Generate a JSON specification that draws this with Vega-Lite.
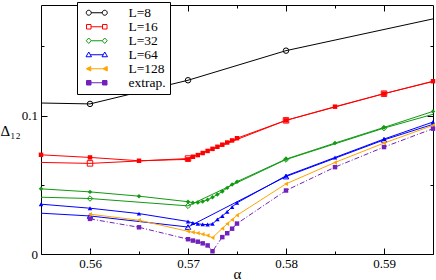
{
  "$schema": "https://vega.github.io/schema/vega-lite/v6.json",
  "width": 392,
  "height": 249,
  "autosize": {"type": "none"},
  "padding": {"left": 41, "top": 5, "right": 3, "bottom": 26},
  "background": "white",
  "config": {
    "view": {"stroke": "black", "strokeWidth": 1},
    "axis": {"domain": false, "grid": false, "labelFont": "Liberation Serif", "labelFontSize": 13, "labelColor": "black", "tickColor": "black", "tickWidth": 1, "titleFont": "Liberation Serif", "titleColor": "black", "titleFontWeight": "normal", "titleFontSize": 15, "labelFlush": false, "labelOverlap": false},
    "axisLeft": {"titleX": -41, "titleY": 125, "titleAngle": 0, "titleAlign": "left", "titleBaseline": "middle", "titlePadding": 2},
    "axisBottom": {"titleX": 196, "titleY": 24, "titleAlign": "center", "titleBaseline": "alphabetic"},
    "legend": {"orient": "none", "legendX": 36, "legendY": -3, "padding": 4, "rowPadding": -1, "strokeColor": "black", "fillColor": "white", "symbolSize": 100, "symbolStrokeWidth": 1, "symbolOffset": 9, "labelOffset": 25, "labelFont": "Liberation Serif", "labelFontSize": 13.5, "labelColor": "black", "symbolOpacity": 1, "symbolFillColor": "white", "symbolStrokeColor": "black"}
  },
  "data": {"values": [
    {"a": 0.55, "d": 0.1098, "L": "L=8", "s": "open"},
    {"a": 0.56, "d": 0.1085, "L": "L=8", "s": "open"},
    {"a": 0.57, "d": 0.1256, "L": "L=8", "s": "open"},
    {"a": 0.58, "d": 0.147, "L": "L=8", "s": "open"},
    {"a": 0.60, "d": 0.1776, "L": "L=8", "s": "open"},

    {"a": 0.55, "d": 0.0669, "L": "L=16", "s": "open"},
    {"a": 0.56, "d": 0.0655, "L": "L=16", "s": "open"},
    {"a": 0.57, "d": 0.0690, "L": "L=16", "s": "open"},
    {"a": 0.58, "d": 0.0966, "L": "L=16", "s": "open"},
    {"a": 0.59, "d": 0.1159, "L": "L=16", "s": "open"},
    {"a": 0.60, "d": 0.1335, "L": "L=16", "s": "open"},

    {"a": 0.555, "d": 0.0717, "L": "L=16", "s": "filled"},
    {"a": 0.56, "d": 0.0698, "L": "L=16", "s": "filled"},
    {"a": 0.565, "d": 0.0674, "L": "L=16", "s": "filled"},
    {"a": 0.57, "d": 0.0684, "L": "L=16", "s": "filled"},
    {"a": 0.5705, "d": 0.0703, "L": "L=16", "s": "filled"},
    {"a": 0.571, "d": 0.0715, "L": "L=16", "s": "filled"},
    {"a": 0.5715, "d": 0.0730, "L": "L=16", "s": "filled"},
    {"a": 0.572, "d": 0.0745, "L": "L=16", "s": "filled"},
    {"a": 0.5725, "d": 0.0760, "L": "L=16", "s": "filled"},
    {"a": 0.573, "d": 0.0775, "L": "L=16", "s": "filled"},
    {"a": 0.5735, "d": 0.0790, "L": "L=16", "s": "filled"},
    {"a": 0.574, "d": 0.0806, "L": "L=16", "s": "filled"},
    {"a": 0.5745, "d": 0.0821, "L": "L=16", "s": "filled"},
    {"a": 0.575, "d": 0.0837, "L": "L=16", "s": "filled"},
    {"a": 0.58, "d": 0.0966, "L": "L=16", "s": "filled"},
    {"a": 0.585, "d": 0.1065, "L": "L=16", "s": "filled"},
    {"a": 0.59, "d": 0.1159, "L": "L=16", "s": "filled"},
    {"a": 0.595, "d": 0.1249, "L": "L=16", "s": "filled"},

    {"a": 0.55, "d": 0.0420, "L": "L=32", "s": "open"},
    {"a": 0.56, "d": 0.0401, "L": "L=32", "s": "open"},
    {"a": 0.57, "d": 0.0348, "L": "L=32", "s": "open"},
    {"a": 0.58, "d": 0.0683, "L": "L=32", "s": "open"},
    {"a": 0.59, "d": 0.0910, "L": "L=32", "s": "open"},
    {"a": 0.60, "d": 0.1110, "L": "L=32", "s": "open"},

    {"a": 0.555, "d": 0.0471, "L": "L=32", "s": "filled"},
    {"a": 0.56, "d": 0.0449, "L": "L=32", "s": "filled"},
    {"a": 0.565, "d": 0.0418, "L": "L=32", "s": "filled"},
    {"a": 0.57, "d": 0.0378, "L": "L=32", "s": "filled"},
    {"a": 0.5705, "d": 0.0371, "L": "L=32", "s": "filled"},
    {"a": 0.571, "d": 0.0372, "L": "L=32", "s": "filled"},
    {"a": 0.5715, "d": 0.0380, "L": "L=32", "s": "filled"},
    {"a": 0.572, "d": 0.0392, "L": "L=32", "s": "filled"},
    {"a": 0.5725, "d": 0.0410, "L": "L=32", "s": "filled"},
    {"a": 0.573, "d": 0.0430, "L": "L=32", "s": "filled"},
    {"a": 0.5735, "d": 0.0452, "L": "L=32", "s": "filled"},
    {"a": 0.574, "d": 0.0478, "L": "L=32", "s": "filled"},
    {"a": 0.5745, "d": 0.0503, "L": "L=32", "s": "filled"},
    {"a": 0.575, "d": 0.0523, "L": "L=32", "s": "filled"},
    {"a": 0.58, "d": 0.0686, "L": "L=32", "s": "filled"},
    {"a": 0.585, "d": 0.0802, "L": "L=32", "s": "filled"},
    {"a": 0.59, "d": 0.0915, "L": "L=32", "s": "filled"},
    {"a": 0.595, "d": 0.1031, "L": "L=32", "s": "filled"},

    {"a": 0.55, "d": 0.0315, "L": "L=64", "s": "open"},
    {"a": 0.56, "d": 0.0275, "L": "L=64", "s": "open"},
    {"a": 0.57, "d": 0.0195, "L": "L=64", "s": "open"},
    {"a": 0.58, "d": 0.0560, "L": "L=64", "s": "open"},
    {"a": 0.59, "d": 0.0825, "L": "L=64", "s": "open"},
    {"a": 0.60, "d": 0.1050, "L": "L=64", "s": "open"},

    {"a": 0.555, "d": 0.0360, "L": "L=64", "s": "filled"},
    {"a": 0.56, "d": 0.0331, "L": "L=64", "s": "filled"},
    {"a": 0.565, "d": 0.0292, "L": "L=64", "s": "filled"},
    {"a": 0.57, "d": 0.0235, "L": "L=64", "s": "filled"},
    {"a": 0.5705, "d": 0.0224, "L": "L=64", "s": "filled"},
    {"a": 0.571, "d": 0.0218, "L": "L=64", "s": "filled"},
    {"a": 0.5715, "d": 0.0214, "L": "L=64", "s": "filled"},
    {"a": 0.572, "d": 0.0213, "L": "L=64", "s": "filled"},
    {"a": 0.5725, "d": 0.0218, "L": "L=64", "s": "filled"},
    {"a": 0.573, "d": 0.0250, "L": "L=64", "s": "filled"},
    {"a": 0.5735, "d": 0.0275, "L": "L=64", "s": "filled"},
    {"a": 0.574, "d": 0.0305, "L": "L=64", "s": "filled"},
    {"a": 0.5745, "d": 0.0340, "L": "L=64", "s": "filled"},
    {"a": 0.575, "d": 0.0370, "L": "L=64", "s": "filled"},
    {"a": 0.58, "d": 0.0565, "L": "L=64", "s": "filled"},
    {"a": 0.585, "d": 0.0698, "L": "L=64", "s": "filled"},
    {"a": 0.59, "d": 0.0831, "L": "L=64", "s": "filled"},
    {"a": 0.595, "d": 0.0954, "L": "L=64", "s": "filled"},

    {"a": 0.56, "d": 0.0288, "L": "L=128", "s": "filled"},
    {"a": 0.565, "d": 0.0244, "L": "L=128", "s": "filled"},
    {"a": 0.57, "d": 0.0164, "L": "L=128", "s": "filled"},
    {"a": 0.5705, "d": 0.0158, "L": "L=128", "s": "filled"},
    {"a": 0.571, "d": 0.0151, "L": "L=128", "s": "filled"},
    {"a": 0.5715, "d": 0.0143, "L": "L=128", "s": "filled"},
    {"a": 0.572, "d": 0.0134, "L": "L=128", "s": "filled"},
    {"a": 0.5725, "d": 0.0118, "L": "L=128", "s": "filled"},
    {"a": 0.5735, "d": 0.0185, "L": "L=128", "s": "filled"},
    {"a": 0.574, "d": 0.0218, "L": "L=128", "s": "filled"},
    {"a": 0.5745, "d": 0.0248, "L": "L=128", "s": "filled"},
    {"a": 0.575, "d": 0.0280, "L": "L=128", "s": "filled"},
    {"a": 0.58, "d": 0.0507, "L": "L=128", "s": "filled"},
    {"a": 0.585, "d": 0.0662, "L": "L=128", "s": "filled"},
    {"a": 0.59, "d": 0.0802, "L": "L=128", "s": "filled"},
    {"a": 0.595, "d": 0.0930, "L": "L=128", "s": "filled"},

    {"a": 0.56, "d": 0.0254, "L": "extrap.", "s": "filled"},
    {"a": 0.565, "d": 0.0193, "L": "extrap.", "s": "filled"},
    {"a": 0.57, "d": 0.0107, "L": "extrap.", "s": "filled"},
    {"a": 0.5705, "d": 0.0097, "L": "extrap.", "s": "filled"},
    {"a": 0.571, "d": 0.0089, "L": "extrap.", "s": "filled"},
    {"a": 0.5715, "d": 0.0077, "L": "extrap.", "s": "filled"},
    {"a": 0.572, "d": 0.0062, "L": "extrap.", "s": "filled"},
    {"a": 0.5725, "d": 0.0020, "L": "extrap.", "s": "filled"},
    {"a": 0.5735, "d": 0.0122, "L": "extrap.", "s": "filled"},
    {"a": 0.574, "d": 0.0150, "L": "extrap.", "s": "filled"},
    {"a": 0.5745, "d": 0.0183, "L": "extrap.", "s": "filled"},
    {"a": 0.575, "d": 0.0220, "L": "extrap.", "s": "filled"},
    {"a": 0.58, "d": 0.0459, "L": "extrap.", "s": "filled"},
    {"a": 0.585, "d": 0.0628, "L": "extrap.", "s": "filled"},
    {"a": 0.59, "d": 0.0773, "L": "extrap.", "s": "filled"},
    {"a": 0.595, "d": 0.0906, "L": "extrap.", "s": "filled"}
  ]},
  "resolve": {
    "axis": {"x": "independent", "y": "independent"},
    "scale": {"shape": "independent", "stroke": "independent", "fill": "independent"}
  },
  "layer": [
    {
      "transform": [{"filter": "datum.s === 'open'"}],
      "mark": {"type": "point", "clip": true, "filled": false, "size": 30, "strokeWidth": 1, "opacity": 1},
      "encoding": {
        "x": {"field": "a", "type": "quantitative", "scale": {"domain": [0.555, 0.595], "nice": false, "zero": false},
          "axis": {"orient": "bottom", "values": [0.56, 0.57, 0.58, 0.59], "format": ".2f", "tickSize": -6, "labelPadding": 9, "title": "α"}},
        "y": {"field": "d", "type": "quantitative", "scale": {"domain": [0, 0.18], "nice": false, "zero": false},
          "axis": {"orient": "left", "values": [0, 0.1], "format": "~g", "tickSize": -6, "labelPadding": 9.5, "title": "Δ₁₂"}},
        "shape": {"field": "L", "type": "nominal", "legend": null,
          "scale": {"domain": ["L=8", "L=16", "L=32", "L=64", "L=128", "extrap."], "range": ["circle", "square", "diamond", "triangle-up", "triangle-left", "square"]}},
        "color": {"field": "L", "type": "nominal", "legend": null,
          "scale": {"domain": ["L=8", "L=16", "L=32", "L=64", "L=128", "extrap."], "range": ["#000000", "#ff0000", "#119911", "#0000ff", "#ffa500", "#7221bc"]}}
      }
    },
    {
      "transform": [{"filter": "datum.L !== 'extrap.'"}],
      "mark": {"type": "line", "clip": true, "strokeWidth": 1},
      "encoding": {
        "x": {"field": "a", "type": "quantitative", "axis": {"orient": "bottom", "values": [0.565, 0.575, 0.585], "tickSize": -3, "labels": false, "title": null}},
        "y": {"field": "d", "type": "quantitative", "axis": {"orient": "left", "values": [0.05, 0.15], "tickSize": -3, "labels": false, "title": null}},
        "color": {"field": "L", "type": "nominal", "legend": null},
        "detail": {"field": "s", "type": "nominal"}
      }
    },
    {
      "transform": [{"filter": "datum.L === 'extrap.'"}],
      "mark": {"type": "line", "clip": true, "strokeWidth": 1, "strokeDash": [5, 2, 1, 2]},
      "encoding": {
        "x": {"field": "a", "type": "quantitative", "axis": null},
        "y": {"field": "d", "type": "quantitative", "axis": null},
        "color": {"field": "L", "type": "nominal", "legend": null}
      }
    },
    {
      "transform": [{"filter": "datum.s === 'filled'"}],
      "mark": {"type": "point", "clip": false, "filled": true, "size": 20, "opacity": 1},
      "encoding": {
        "x": {"field": "a", "type": "quantitative", "axis": {"orient": "top", "values": [0.56, 0.57, 0.58, 0.59], "tickSize": -6, "labels": false, "title": null}},
        "y": {"field": "d", "type": "quantitative", "axis": {"orient": "right", "values": [0, 0.1], "tickSize": -6, "labels": false, "title": null}},
        "shape": {"field": "L", "type": "nominal", "legend": null,
          "scale": {"domain": ["L=8", "L=16", "L=32", "L=64", "L=128", "extrap."], "range": ["circle", "square", "diamond", "triangle-up", "triangle-left", "square"]}},
        "color": {"field": "L", "type": "nominal", "legend": null}
      }
    },
    {
      "mark": {"type": "point", "opacity": 0, "filled": true},
      "encoding": {
        "x": {"field": "a", "type": "quantitative", "axis": {"orient": "top", "values": [0.565, 0.575, 0.585], "tickSize": -3, "labels": false, "title": null}},
        "y": {"field": "d", "type": "quantitative", "axis": {"orient": "right", "values": [0.05, 0.15], "tickSize": -3, "labels": false, "title": null}},
        "shape": {"field": "L", "type": "nominal", "legend": {"title": null},
          "scale": {"domain": ["L=8", "L=16", "L=32", "L=64", "L=128", "extrap."],
            "range": [
              "M-2.1,0A0.5,0.5 0 1,1 -1.1,0A0.5,0.5 0 1,1 -2.1,0ZM1.1,0A0.5,0.5 0 1,1 2.1,0A0.5,0.5 0 1,1 1.1,0ZM-1.1,0L1.1,0",
              "M-2.05,-0.45L-1.15,-0.45L-1.15,0.45L-2.05,0.45ZM1.15,-0.45L2.05,-0.45L2.05,0.45L1.15,0.45ZM-1.15,0L1.15,0",
              "M-2.1,0L-1.6,-0.55L-1.1,0L-1.6,0.55ZM1.1,0L1.6,-0.55L2.1,0L1.6,0.55ZM-1.1,0L1.1,0",
              "M-2.15,0.4L-1.6,-0.55L-1.05,0.4ZM1.05,0.4L1.6,-0.55L2.15,0.4ZM-1.3,0L1.3,0",
              "M-2.1,0L-1.2,-0.45L-1.2,0.45ZM1.2,0L2.1,-0.45L2.1,0.45ZM-1.2,0L1.2,0",
              "M-2.05,-0.45L-1.15,-0.45L-1.15,0.45L-2.05,0.45ZM1.15,-0.45L2.05,-0.45L2.05,0.45L1.15,0.45ZM-1.15,0L1.15,0"
            ]}},
        "stroke": {"field": "L", "type": "nominal", "legend": {"title": null},
          "scale": {"domain": ["L=8", "L=16", "L=32", "L=64", "L=128", "extrap."], "range": ["#000000", "#ff0000", "#119911", "#0000ff", "#ffa500", "#7221bc"]}},
        "fill": {"field": "L", "type": "nominal", "legend": {"title": null},
          "scale": {"domain": ["L=8", "L=16", "L=32", "L=64", "L=128", "extrap."], "range": ["#ffffff", "#ffffff", "#ffffff", "#ffffff", "#ffa500", "#7221bc"]}}
      }
    }
  ]
}
